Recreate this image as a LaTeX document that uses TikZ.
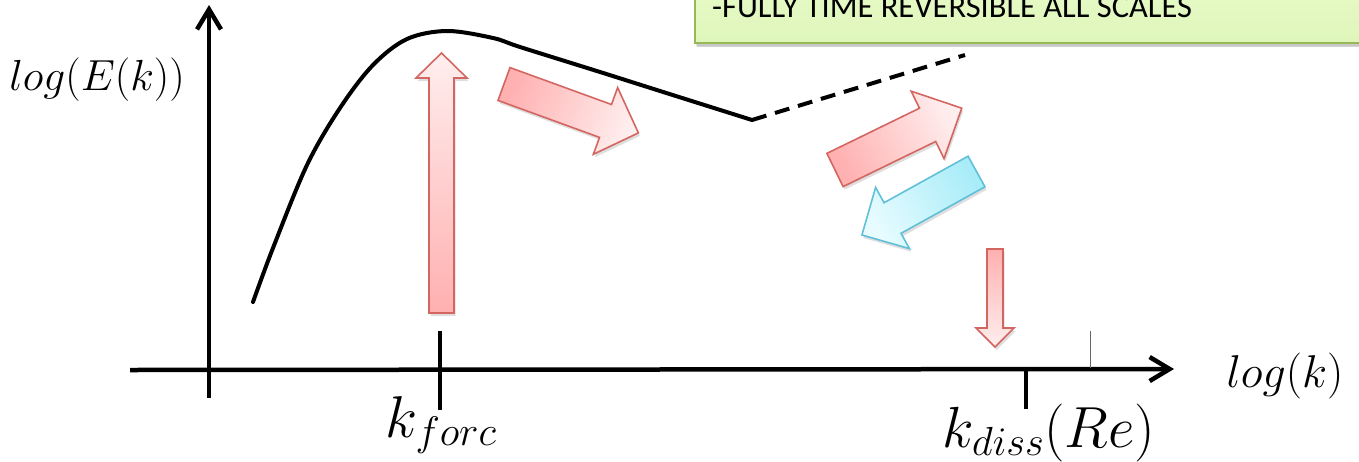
\RequirePackage{fix-cm}
\documentclass[tikz,border=0pt]{standalone}
\usepackage{fontspec}
\newfontfamily\calib{Carlito}
\usetikzlibrary{arrows.meta}
\definecolor{redline}{RGB}{212,102,98}
\definecolor{pinkdark}{RGB}{255,176,176}
\definecolor{pinklight}{RGB}{255,238,238}
\definecolor{blueline}{RGB}{96,192,216}
\definecolor{bluedark}{RGB}{168,236,248}
\definecolor{bluelight}{RGB}{232,252,255}
\definecolor{boxline}{RGB}{150,185,85}
\definecolor{boxtop}{RGB}{232,250,200}
\definecolor{boxbot}{RGB}{222,246,186}
% #1,#2 tail centre; #3 direction; #4 length; #5 shaft half width; #6 head half width; #7 head length; #8 style
\newcommand\fatarrow[8]{%
  \begin{scope}[shift={(#1+1.5,#2+3)}, rotate=#3]
    \fill[black, opacity=0.13] (0,-#5) -- ({#4-#7},-#5) -- ({#4-#7},-#6) -- (#4,0) -- ({#4-#7},#6) -- ({#4-#7},#5) -- (0,#5) -- cycle;
  \end{scope}
  \begin{scope}[shift={(#1,#2)}, rotate=#3]
    \path[#8] (0,-#5) -- ({#4-#7},-#5) -- ({#4-#7},-#6) -- (#4,0) -- ({#4-#7},#6) -- ({#4-#7},#5) -- (0,#5) -- cycle;
  \end{scope}}
\tikzset{
  axisline/.style={line width=4.5pt, -{Straight Barb[length=20pt, width=24pt, line width=4.5pt]}},
  tickline/.style={line width=4.5pt},
  curveline/.style={line width=4pt, line cap=round, line join=round},
  pinkarr/.style={draw=redline, line width=1.6pt, line join=miter, shading=axis, top color=pinklight, bottom color=pinkdark, shading angle=#1},
  bluearr/.style={draw=blueline, line width=1.6pt, line join=miter, shading=axis, top color=bluelight, bottom color=bluedark, shading angle=#1},
  mathlabel/.style={inner sep=0pt, anchor=base},
  titletext/.style={anchor=base west, inner sep=0pt, font=\calib},
}
\begin{document}
\begin{tikzpicture}[x=1pt, y=-1pt]
\clip (0,0) rectangle (1359,461);
\useasboundingbox (0,0) rectangle (1359,461);

% green banner
\fill[black!35, opacity=0.5] (697,-20) rectangle (1390,47);
\fill[black!25, opacity=0.5] (696,-20) rectangle (1390,45.5);
\path[draw=boxline, line width=1.5pt, top color=boxtop, bottom color=boxbot] (695,-20) rectangle (1390,43);
\node[titletext] (title) at (712,17) {\fontsize{32.5}{38}\selectfont -FULLY TIME REVERSIBLE ALL SCALES};

% axes
\coordinate (yb) at (209,398);
\coordinate (yt) at (209,5);
\coordinate (xl) at (130,370);
\coordinate (xr) at (1174,369);
\draw[axisline] (yb) -- (yt);
\draw[axisline] (xl) -- (xr);
\coordinate (sa) at (1090,331);
\coordinate (sb) at (1090,368);
\draw[black!60, line width=0.8pt] (sa) -- (sb);

% ticks
\coordinate (kft) at (440,331);
\coordinate (kfb) at (440,410);
\draw[tickline] (kft) -- (kfb);
\coordinate (kdt) at (1026,370);
\coordinate (kdb) at (1026,409);
\draw[tickline] (kdt) -- (kdb);

% labels
\node[mathlabel, font=\fontsize{43.5}{50}\selectfont] (ylab) at (97,90) {$log(E(k))$};
\node[mathlabel, font=\fontsize{46}{52}\selectfont] (xlab) at (1285,387) {$log(k)$};
\node[mathlabel, font=\fontsize{59}{66}\selectfont] (kf) at (441,437) {$k_{forc}$};
\node[mathlabel, font=\fontsize{58}{66}\selectfont] (kd) at (1049,447) {$k_{diss}(Re)$};

% spectrum curve
\coordinate (c0) at (253,302);
\coordinate (cb) at (752,120);
\coordinate (ce) at (965,55);
\draw[curveline] plot[smooth, tension=0.55] coordinates {(253,302) (273,248) (307,165) (340,108) (373,65) (407,39) (447,31) (493,38) (520,47) (600,72) (660,91) (752,120)};
\draw[line width=4pt, dash pattern=on 15pt off 9pt] (cb) -- (ce);

% energy transfer arrows
\fatarrow{441.5}{313}{90}{260}{12.5}{25.5}{25}{pinkarr=0}
\fatarrow{504}{84}{-20}{143}{17.5}{35.5}{35}{pinkarr=-110}
\fatarrow{835}{170}{26}{141}{18.5}{37.5}{38}{pinkarr=-64}
\fatarrow{976.5}{171.5}{209}{131}{17.5}{35}{35}{bluearr=119}
\fatarrow{995}{249}{-90}{98}{8}{19}{19}{pinkarr=-180}
\end{tikzpicture}
\end{document}
